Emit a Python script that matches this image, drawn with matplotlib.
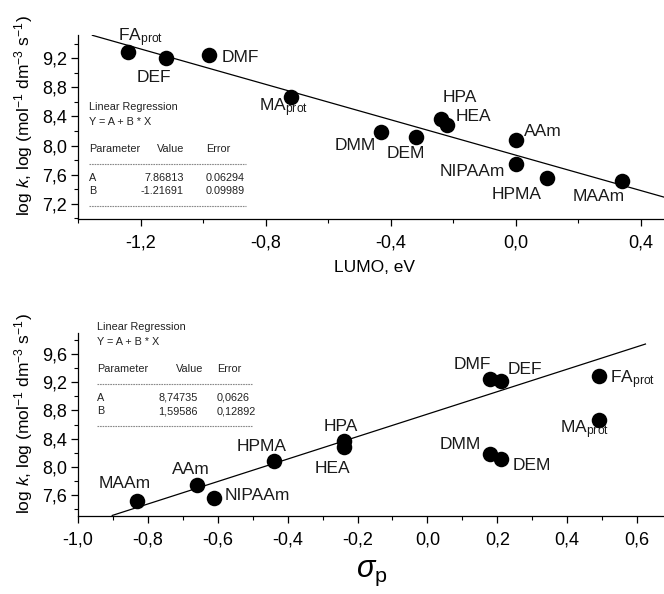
import matplotlib
matplotlib.use("Agg")
import matplotlib.pyplot as plt
from matplotlib.ticker import MultipleLocator, FuncFormatter
from matplotlib.lines import Line2D

plt.rcParams['font.family'] = ['Liberation Sans', 'DejaVu Sans']
plt.rcParams['mathtext.fontset'] = 'custom'
plt.rcParams['mathtext.rm'] = 'Liberation Sans'
plt.rcParams['mathtext.it'] = 'Liberation Sans:italic'

W, H = 664, 594

# top panel: log k vs LUMO
names = ['FA$_{\\mathregular{prot}}$', 'DEF', 'DMF', 'MA$_{\\mathregular{prot}}$', 'DMM', 'DEM',
         'HPA', 'HEA', 'AAm', 'NIPAAm', 'HPMA', 'MAAm']
lumo = [-1.24, -1.12, -0.98, -0.72, -0.43, -0.32, -0.24, -0.22, 0.00, 0.00, 0.10, 0.34]
logk_top = [9.29, 9.21, 9.24, 8.67, 8.18, 8.12, 8.37, 8.28, 8.08, 7.74, 7.56, 7.51]
fit_top = (7.86813, -1.21691)
fit_top_x = (-1.354, 0.5)

# bottom panel: log k vs sigma_p
names_b = ['MAAm', 'AAm', 'NIPAAm', 'HPMA', 'HPA', 'HEA', 'DMF', 'DEF',
           'FA$_{\\mathregular{prot}}$', 'MA$_{\\mathregular{prot}}$', 'DMM', 'DEM']
sigma = [-0.83, -0.66, -0.61, -0.44, -0.24, -0.24, 0.18, 0.21, 0.49, 0.49, 0.18, 0.21]
logk_bot = [7.51, 7.74, 7.56, 8.08, 8.37, 8.28, 9.25, 9.22, 9.29, 8.67, 8.18, 8.11]
fit_bot = (8.74735, 1.59586)
fit_bot_x = (-0.902, 0.624)

# label offsets in pixels (left edge, vertical centre), y down
off_top = [(-10, -14), (-29, 20), (12, 2), (-32, 11), (-47, 13), (-29, 17),
           (2, -21), (9, -9), (8, -8), (-76, 7), (-55, 17), (-49, 15)]
off_bot = [(-39, -18), (-25, -16), (10, -2), (-37, -15), (-20, -14), (-29, 21),
           (-37, -14), (7, -11), (11, 4), (-39, 10), (-51, -10), (12, 7)]

comma = FuncFormatter(lambda v, p: ('%.1f' % v).replace('.', ',').replace('-0,0', '0,0'))


def fx(px):
    return px / W


def fy(py):
    return 1 - py / H


fig = plt.figure(figsize=(W / 100, H / 100), dpi=100)


def make_ax(top_px, bot_px, xlim, ylim):
    left, right = 78, 672
    ax = fig.add_axes([fx(left), fy(bot_px), (right - left) / W, (bot_px - top_px) / H])
    ax.set_xlim(*xlim)
    ax.set_ylim(*ylim)
    ax.spines['top'].set_visible(False)
    ax.spines['right'].set_visible(False)
    for s in ('left', 'bottom'):
        ax.spines[s].set_linewidth(0.9)
    ax.yaxis.set_major_locator(MultipleLocator(0.4))
    ax.yaxis.set_minor_locator(MultipleLocator(0.2))
    ax.xaxis.set_major_formatter(comma)
    ax.yaxis.set_major_formatter(comma)
    ax.tick_params(which='major', direction='out', length=5, width=0.9, labelsize=13, pad=3)
    ax.tick_params(which='minor', direction='out', length=3, width=0.8)
    ax.tick_params(axis='x', which='major', pad=6)
    return ax


def regression_box(x0, y0, A, B, eA, eB, cols):
    kw = dict(fontsize=7.8, color='#222222', va='center')
    fig.text(fx(x0), fy(y0), 'Linear Regression', **kw)
    fig.text(fx(x0), fy(y0 + 15), 'Y = A + B * X', **kw)
    fig.text(fx(x0), fy(y0 + 42), 'Parameter', **kw)
    fig.text(fx(cols[0]), fy(y0 + 42), 'Value', **kw)
    fig.text(fx(cols[2]), fy(y0 + 42), 'Error', **kw)
    fig.text(fx(x0), fy(y0 + 71), 'A', **kw)
    fig.text(fx(x0), fy(y0 + 84), 'B', **kw)
    fig.text(fx(cols[1]), fy(y0 + 71), A, ha='right', **kw)
    fig.text(fx(cols[1]), fy(y0 + 84), B, ha='right', **kw)
    fig.text(fx(cols[2]), fy(y0 + 71), eA, **kw)
    fig.text(fx(cols[2]), fy(y0 + 84), eB, **kw)
    for yy in (y0 + 57, y0 + 99):
        fig.add_artist(Line2D([fx(x0), fx(cols[3])], [fy(yy), fy(yy)], color='#888888',
                              lw=0.8, ls=(0, (1.5, 0.8)), transform=fig.transFigure))


def draw_panel(ax, xs, ys, labels, offs, fit, fit_x):
    ax.plot(list(fit_x), [fit[0] + fit[1] * v for v in fit_x], color='black', lw=0.9, zorder=2)
    ax.scatter(xs, ys, s=125, color='black', zorder=3, linewidths=0)
    for x, y, lab, (dx, dy) in zip(xs, ys, labels, offs):
        ax.annotate(lab, (x, y), xytext=(dx, -dy), textcoords='offset pixels',
                    ha='left', va='center', fontsize=12.5, color='#1a1a1a')


ylab = 'log $k$, log (mol$^{-1}$ dm$^{-3}$ s$^{-1}$)'

ax1 = make_ax(35, 219, (-1.4, 0.5), (6.99, 9.52))
ax1.xaxis.set_major_locator(MultipleLocator(0.4))
ax1.xaxis.set_minor_locator(MultipleLocator(0.2))
draw_panel(ax1, lumo, logk_top, names, off_top, fit_top, fit_top_x)
ax1.set_ylabel(ylab, fontsize=12.5)
ax1.yaxis.set_label_coords(-0.072, 0.56)
fig.text(fx(374), fy(267), 'LUMO, eV', fontsize=12.5, ha='center', va='center')
regression_box(89, 107, '7.86813', '-1.21691', '0.06294', '0.09989', (157, 184, 206, 246))

ax2 = make_ax(333, 516, (-1.0, 0.7), (7.3, 9.9))
ax2.xaxis.set_major_locator(MultipleLocator(0.2))
ax2.xaxis.set_minor_locator(MultipleLocator(0.1))
draw_panel(ax2, sigma, logk_bot, names_b, off_bot, fit_bot, fit_bot_x)
ax2.set_ylabel(ylab, fontsize=12.5)
ax2.yaxis.set_label_coords(-0.072, 0.56)
fig.text(fx(372), fy(573), r'$\sigma_{\mathregular{p}}$', fontsize=22, ha='center', va='center')
regression_box(97, 327, '8,74735', '1,59586', '0,0626', '0,12892', (176, 198, 217, 252))

fig.savefig('out.png', dpi=100)
